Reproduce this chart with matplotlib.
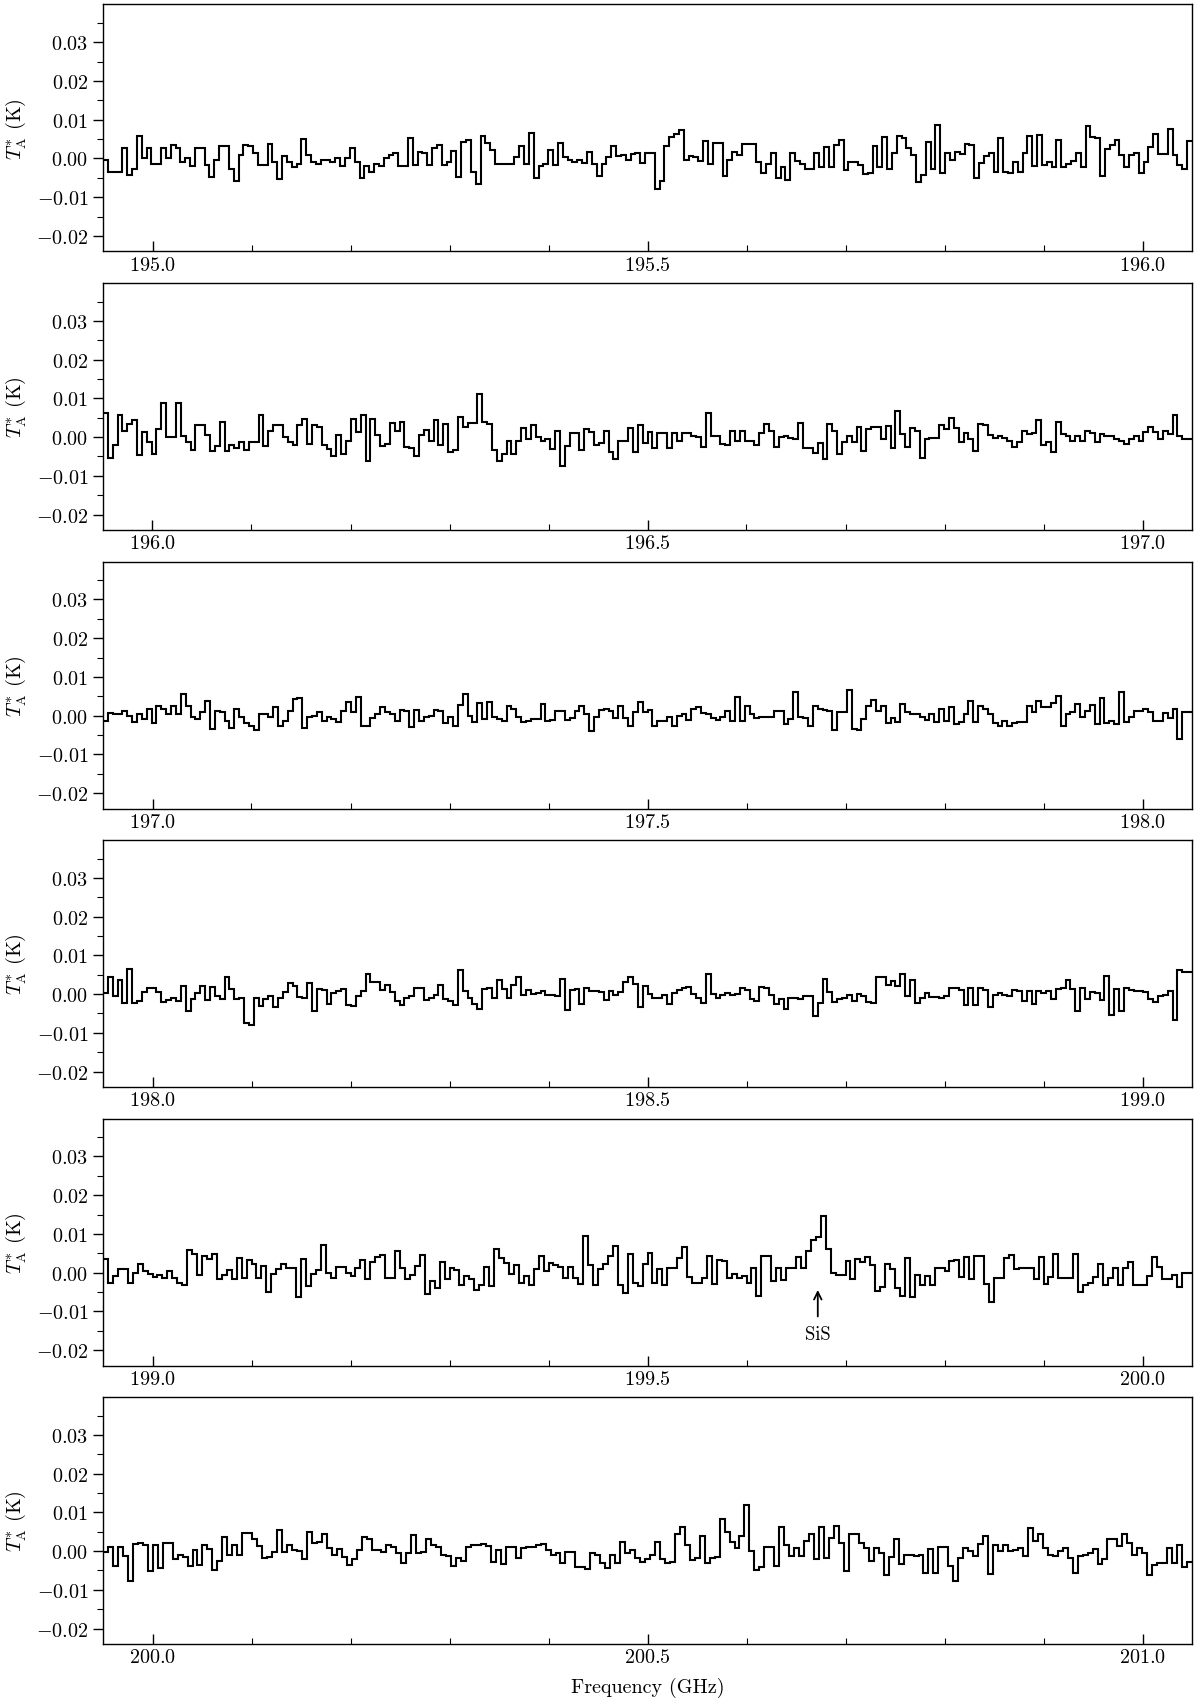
import numpy as np
import matplotlib
matplotlib.use("Agg")
import matplotlib.pyplot as plt
from matplotlib.ticker import MultipleLocator, FuncFormatter

plt.rcParams['font.family'] = 'serif'
plt.rcParams['font.serif'] = ['cmr10']
plt.rcParams['mathtext.fontset'] = 'cm'
plt.rcParams['axes.formatter.use_mathtext'] = True
plt.rcParams['axes.unicode_minus'] = True

# ---------------- data (antenna temperature in K) ----------------
panel_starts = [194.95, 195.95, 196.95, 197.95, 198.95, 199.95]   # GHz, left edge of each panel
panel_width = 1.1                                                  # GHz covered by each panel

spec_195 = [
    -0.0004, -0.0034, -0.0034, -0.0034, 0.0026, -0.0043, -0.0026, 0.0057, 0.0000, 0.0026,
    -0.0013, -0.0013, 0.0026, 0.0000, 0.0034, 0.0026, -0.0009, 0.0000, -0.0020, 0.0028,
    0.0028, -0.0017, -0.0049, -0.0004, 0.0032, 0.0032, -0.0026, -0.0058, 0.0009, 0.0036,
    0.0032, 0.0013, -0.0017, -0.0017, 0.0038, -0.0009, -0.0052, 0.0006, -0.0009, -0.0021,
    -0.0013, 0.0050, 0.0010, -0.0009, -0.0015, -0.0004, -0.0003, -0.0010, 0.0000, -0.0020,
    0.0000, 0.0027, -0.0009, -0.0051, -0.0020, -0.0034, -0.0013, -0.0020, 0.0000, 0.0009,
    0.0015, -0.0019, -0.0019, 0.0054, -0.0017, 0.0017, 0.0013, -0.0017, 0.0026, 0.0036,
    -0.0017, -0.0009, 0.0019, -0.0047, 0.0043, 0.0047, -0.0034, -0.0067, 0.0057, 0.0040,
    0.0021, -0.0013, -0.0013, -0.0013, -0.0013, 0.0003, 0.0032, -0.0015, 0.0067, -0.0050,
    -0.0020, -0.0013, 0.0021, -0.0017, 0.0041, 0.0003, -0.0003, -0.0009, -0.0003, -0.0011,
    0.0017, -0.0013, -0.0045, -0.0013, 0.0004, 0.0032, 0.0006, 0.0009, -0.0004, 0.0011,
    0.0013, -0.0011, 0.0013,
    0.0013, -0.0079, -0.0058, 0.0032, 0.0056, 0.0062, 0.0073, -0.0003, 0.0006, 0.0003,
    -0.0006, 0.0045, -0.0013, 0.0040, 0.0040, -0.0045, -0.0003, 0.0017, 0.0010, 0.0038,
    0.0038, 0.0038, -0.0009, -0.0037, -0.0013, 0.0013, -0.0050, -0.0021, -0.0056, 0.0013,
    -0.0007, -0.0013, -0.0026, -0.0026, 0.0013, -0.0021, 0.0030, -0.0021, 0.0036, 0.0049,
    -0.0030, -0.0009, -0.0009, -0.0017, -0.0040, -0.0038, 0.0032, -0.0021, 0.0056, -0.0028,
    0.0013, 0.0057, 0.0053, 0.0027, 0.0009, -0.0062, -0.0043, 0.0043, -0.0028, 0.0087,
    -0.0038, 0.0013, -0.0004, 0.0017, 0.0011, 0.0038, 0.0036, -0.0051, -0.0011, 0.0006,
    0.0013, -0.0034, 0.0053, -0.0034, -0.0037, -0.0009, -0.0034, 0.0013, 0.0057, -0.0020,
    0.0060, -0.0017, -0.0009, -0.0021, 0.0047, -0.0021, -0.0013, -0.0006, 0.0013, -0.0021,
    0.0084, 0.0056, 0.0053, -0.0044, 0.0024, 0.0034, 0.0047, 0.0009, -0.0021, 0.0009,
    0.0013, -0.0038, -0.0009, 0.0030, 0.0064, 0.0011, 0.0011, 0.0077, 0.0009, -0.0016,
    -0.0026, 0.0044,
]

spec_196 = [
    0.0062, -0.0053, -0.0020, 0.0056, 0.0015, 0.0034, 0.0043, -0.0047, 0.0013, -0.0013,
    -0.0044, 0.0020, 0.0088, 0.0000, 0.0000, 0.0087, 0.0004, -0.0013, -0.0034, 0.0030,
    0.0032, 0.0006, -0.0037, -0.0023, 0.0038, -0.0037, -0.0020, -0.0028, -0.0013, -0.0034,
    -0.0013, -0.0013, 0.0056, -0.0023, 0.0017, 0.0030, 0.0030, 0.0000, -0.0013, -0.0020,
    0.0030, 0.0047, -0.0017, 0.0032, 0.0026, -0.0020, -0.0032, -0.0050, 0.0006, -0.0043,
    -0.0010, 0.0047, 0.0013, 0.0056, -0.0062, 0.0047, 0.0006, -0.0024, -0.0017, 0.0036,
    0.0015, 0.0040, -0.0026, -0.0028, -0.0050, 0.0006, 0.0019, -0.0009, 0.0044, -0.0021,
    0.0034, -0.0038, -0.0034, 0.0051, 0.0026, 0.0036, 0.0036, 0.0111, 0.0040, 0.0034,
    -0.0034, -0.0062, -0.0043, -0.0010, -0.0043, -0.0009, 0.0024, -0.0006, 0.0030, 0.0000,
    -0.0010, -0.0004, -0.0032, 0.0015, -0.0074, -0.0023, 0.0010, 0.0010, -0.0034, 0.0021,
    0.0013, -0.0020, -0.0015, 0.0017, -0.0038, -0.0057, -0.0010, -0.0009, 0.0024, -0.0038,
    0.0032, -0.0015,
    0.0013, -0.0028, 0.0010, 0.0010, -0.0028, 0.0010, -0.0011, 0.0010, 0.0010, 0.0004,
    0.0000, -0.0026, 0.0062, 0.0004, 0.0004, -0.0017, -0.0021, 0.0017, -0.0009, 0.0017,
    -0.0009, -0.0009, -0.0021, 0.0010, 0.0034, 0.0015, -0.0026, 0.0000, 0.0004, -0.0003,
    -0.0006, 0.0036, -0.0028, -0.0028, -0.0040, -0.0015, -0.0056, 0.0034, 0.0015, -0.0043,
    -0.0013, 0.0004, -0.0013, 0.0026, -0.0037, 0.0021, 0.0026, 0.0026, -0.0004, 0.0028,
    -0.0028, 0.0068, 0.0009, -0.0026, 0.0023, 0.0017, -0.0054, -0.0004, -0.0003, -0.0003,
    0.0032, 0.0021, 0.0049, 0.0023, -0.0013, 0.0010, -0.0004, -0.0037, 0.0034, 0.0032,
    0.0006, -0.0003, 0.0004, -0.0003, -0.0011, -0.0026, -0.0013, 0.0017, 0.0009, 0.0010,
    0.0044, -0.0020, -0.0013, -0.0038, 0.0040, 0.0009, 0.0003, -0.0009, 0.0003, -0.0011,
    0.0015, 0.0011, -0.0013, 0.0009, 0.0003, 0.0003, -0.0004, -0.0009, -0.0017, -0.0004,
    0.0004, -0.0009, 0.0013, 0.0027, 0.0013, -0.0004, 0.0017, 0.0009, 0.0057, 0.0004,
    -0.0004, -0.0004,
]

spec_197 = [
    -0.0015, 0.0006, 0.0004, 0.0003, 0.0011, 0.0000, -0.0017, 0.0004, -0.0009, 0.0017,
    -0.0020, 0.0026, 0.0017, 0.0003, 0.0026, 0.0003, 0.0056, 0.0024, -0.0003, -0.0009,
    0.0009, 0.0038, -0.0034, 0.0013, 0.0009, -0.0015, -0.0032, 0.0017, -0.0004, -0.0020,
    -0.0028, -0.0037, 0.0003, 0.0003, -0.0003, 0.0021, -0.0028, -0.0013, 0.0011, 0.0043,
    0.0045, -0.0032, -0.0003, 0.0000, 0.0009, -0.0015, -0.0004, -0.0009, -0.0017, 0.0013,
    0.0034, 0.0009, 0.0047, -0.0026, -0.0027, -0.0006, 0.0004, 0.0021, 0.0009, 0.0004,
    -0.0013, 0.0015, 0.0013, -0.0030, 0.0015, -0.0013, -0.0003, 0.0000, 0.0015, 0.0013,
    -0.0020, -0.0004, -0.0028, 0.0027, 0.0056, 0.0000, -0.0017, 0.0032, -0.0009, 0.0034,
    -0.0004, -0.0009, -0.0013, 0.0026, 0.0017, -0.0004, -0.0017, -0.0015, -0.0009, -0.0009,
    0.0030, -0.0013, -0.0011, 0.0013, 0.0013, -0.0011, -0.0006, 0.0013, 0.0026, 0.0003,
    -0.0041, -0.0004, 0.0015, 0.0017, 0.0013, -0.0006, 0.0026, -0.0006, -0.0026, 0.0009,
    0.0036, 0.0010,
    0.0015, -0.0026, -0.0015, -0.0015, -0.0003, -0.0026, 0.0000, 0.0003, -0.0011, 0.0017,
    0.0023, 0.0006, 0.0004, -0.0006, -0.0011, -0.0004, 0.0011, -0.0013, 0.0047, -0.0013,
    0.0026, 0.0003, -0.0006, -0.0003, -0.0003, -0.0003, 0.0011, 0.0011, -0.0023, -0.0009,
    0.0060, -0.0003, -0.0006, -0.0028, 0.0026, 0.0017, 0.0015, 0.0011, -0.0037, 0.0009,
    0.0010, 0.0066, -0.0034, -0.0037, -0.0009, 0.0026, 0.0040, 0.0011, 0.0026, -0.0020,
    -0.0006, -0.0017, 0.0030, 0.0009, 0.0004, 0.0003, -0.0003, -0.0011, 0.0004, -0.0017,
    0.0017, -0.0013, 0.0023, -0.0021, -0.0017, 0.0004, 0.0038, -0.0017, 0.0026, 0.0017,
    0.0003, -0.0020, -0.0028, -0.0013, -0.0028, -0.0020, -0.0017, -0.0017, 0.0026, 0.0009,
    0.0038, 0.0023, 0.0021, 0.0032, 0.0051, -0.0028, 0.0003, 0.0009, 0.0030, -0.0003,
    0.0013, 0.0027, -0.0021, 0.0045, -0.0020, -0.0013, -0.0021, 0.0062, -0.0017, -0.0003,
    0.0011, 0.0011, 0.0017, 0.0009, -0.0013, -0.0015, 0.0006, -0.0006, 0.0017, -0.0060,
    0.0009, 0.0009,
]

spec_198 = [
    0.0004, 0.0045, -0.0006, 0.0036, -0.0024, 0.0064, -0.0024, -0.0017, 0.0006, 0.0015,
    0.0015, 0.0006, -0.0021, -0.0015, -0.0010, -0.0017, 0.0021, -0.0043, -0.0013, 0.0004,
    0.0020, -0.0015, 0.0019, -0.0006, -0.0013, 0.0044, 0.0013, -0.0013, -0.0010, -0.0075,
    -0.0079, -0.0009, -0.0032, -0.0013, -0.0004, -0.0034, -0.0011, 0.0006, 0.0028, 0.0021,
    -0.0007, -0.0010, 0.0028, -0.0043, 0.0013, 0.0011, -0.0026, 0.0004, 0.0009, 0.0013,
    -0.0028, -0.0032, -0.0004, 0.0009, 0.0051, 0.0030, 0.0030, 0.0011, 0.0023, 0.0006,
    -0.0017, -0.0028, -0.0009, -0.0006, 0.0017, 0.0015, -0.0015, -0.0011, -0.0003, 0.0024,
    -0.0013, -0.0017, -0.0028, 0.0062, 0.0009, -0.0011, -0.0026, -0.0038, 0.0013, 0.0015,
    -0.0011, 0.0036, 0.0013, -0.0009, 0.0024, 0.0045, -0.0003, 0.0011, 0.0000, 0.0003,
    0.0009, -0.0003, -0.0003, -0.0006, 0.0040, -0.0040, 0.0011, 0.0013, -0.0026, 0.0017,
    0.0009, 0.0009, 0.0006, -0.0015, 0.0009, -0.0003, 0.0006, 0.0032, 0.0043, 0.0026,
    -0.0034, 0.0021,
    0.0000, -0.0009, -0.0009, -0.0003, -0.0026, 0.0003, 0.0010, 0.0015, 0.0019, 0.0000,
    -0.0009, -0.0023, 0.0051, 0.0000, -0.0010, -0.0003, 0.0003, -0.0003, 0.0000, 0.0017,
    0.0010, -0.0013, -0.0017, 0.0019, 0.0017, -0.0003, -0.0026, -0.0013, -0.0038, -0.0010,
    -0.0009, -0.0013, -0.0006, -0.0006, -0.0056, -0.0024, 0.0038, 0.0006, -0.0021, -0.0013,
    -0.0009, -0.0003, -0.0017, 0.0000, -0.0004, -0.0021, -0.0023, 0.0044, 0.0043, 0.0023,
    0.0034, 0.0021, 0.0051, -0.0006, 0.0036, -0.0024, -0.0010, 0.0004, -0.0007, -0.0007,
    -0.0011, -0.0004, 0.0017, 0.0017, 0.0010, -0.0028, 0.0015, -0.0028, 0.0015, 0.0011,
    -0.0034, -0.0003, 0.0003, -0.0003, -0.0006, 0.0011, 0.0009, -0.0017, 0.0009, -0.0026,
    0.0009, 0.0003, 0.0009, -0.0013, 0.0013, 0.0017, 0.0036, 0.0013, -0.0043, 0.0017,
    -0.0013, 0.0006, 0.0003, -0.0015, 0.0047, -0.0054, 0.0013, -0.0043, 0.0017, 0.0010,
    0.0009, 0.0009, 0.0006, -0.0013, -0.0021, -0.0006, -0.0003, 0.0009, -0.0068, 0.0062,
    0.0058, 0.0058,
]

spec_199 = [
    0.0036, -0.0026, -0.0009, 0.0010, 0.0009, -0.0028, 0.0000, 0.0023, 0.0003, -0.0004,
    -0.0011, -0.0006, -0.0015, 0.0004, -0.0013, -0.0026, -0.0032, 0.0058, 0.0049, -0.0006,
    0.0043, 0.0034, 0.0049, -0.0017, -0.0006, 0.0006, -0.0017, 0.0038, -0.0013, 0.0032,
    0.0021, -0.0013, 0.0017, -0.0051, -0.0003, 0.0009, 0.0021, 0.0011, 0.0013, -0.0062,
    0.0034, -0.0034, -0.0004, 0.0006, 0.0070, 0.0000, -0.0015, 0.0015, 0.0015, 0.0000,
    -0.0009, 0.0013, 0.0032, -0.0017, 0.0028, 0.0040, 0.0045, -0.0013, -0.0015, 0.0057,
    0.0011, -0.0017, -0.0006, 0.0017, 0.0045, -0.0056, -0.0021, -0.0041, 0.0027, -0.0017,
    0.0011, 0.0006, -0.0032, -0.0010, -0.0017, -0.0045, -0.0032, 0.0015, -0.0034, 0.0062,
    0.0038, 0.0026, -0.0003, 0.0019, -0.0028, -0.0009, -0.0032, 0.0009, 0.0044, 0.0003,
    0.0026, 0.0020, 0.0015, -0.0015, 0.0015, -0.0013, -0.0030, 0.0094, 0.0019, -0.0032,
    0.0009, 0.0021, 0.0044, 0.0068, -0.0032, -0.0053, 0.0049, -0.0026, -0.0034, 0.0021,
    0.0051,
    -0.0026, 0.0009, -0.0032, 0.0011, 0.0013, 0.0038, 0.0066, -0.0011, -0.0028, -0.0028,
    -0.0013, 0.0043, -0.0030, 0.0032, 0.0030, -0.0013, -0.0003, -0.0015, -0.0009, -0.0026,
    0.0013, -0.0060, 0.0043, 0.0043, -0.0023, 0.0013, -0.0020, 0.0011, 0.0013, 0.0040,
    0.0011, 0.0056, 0.0083, 0.0091, 0.0145, 0.0062, 0.0000, -0.0006, -0.0006, 0.0030,
    -0.0017, 0.0034, 0.0028, 0.0040, 0.0020, -0.0047, -0.0038, 0.0021, 0.0010, -0.0040,
    -0.0060, 0.0038, -0.0064, -0.0007, -0.0032, -0.0009, -0.0032, 0.0011, 0.0013, 0.0004,
    0.0030, 0.0032, -0.0011, 0.0040, -0.0017, 0.0044, 0.0043, -0.0030, -0.0075, -0.0013,
    -0.0013, 0.0038, 0.0045, 0.0009, 0.0013, 0.0013, 0.0013, -0.0017, 0.0040, -0.0030,
    -0.0011, 0.0049, -0.0013, -0.0015, -0.0015, 0.0049, -0.0051, -0.0032, -0.0026, -0.0011,
    0.0021, -0.0032, -0.0013, 0.0011, -0.0032, 0.0013, 0.0027, -0.0032, -0.0032, -0.0032,
    -0.0009, 0.0040, 0.0015, -0.0017, -0.0017, -0.0006, -0.0037, 0.0000, 0.0000,
]

spec_200 = [
    -0.0003, 0.0010, -0.0038, 0.0010, -0.0013, -0.0077, 0.0019, 0.0020, 0.0015, -0.0051,
    0.0015, -0.0043, 0.0020, 0.0020, -0.0021, -0.0009, -0.0015, -0.0038, 0.0003, -0.0037,
    0.0015, 0.0006, -0.0050, -0.0026, 0.0036, -0.0010, 0.0017, -0.0009, 0.0047, 0.0047,
    0.0030, 0.0013, -0.0017, -0.0015, -0.0003, 0.0054, -0.0003, 0.0015, 0.0003, 0.0000,
    -0.0021, 0.0049, 0.0021, 0.0024, 0.0044, 0.0009, -0.0009, 0.0006, -0.0015, -0.0037,
    -0.0021, 0.0003, 0.0036, 0.0032, 0.0004, 0.0003, -0.0003, 0.0017, 0.0011, -0.0004,
    -0.0032, -0.0006, 0.0041, -0.0006, -0.0003, 0.0032, 0.0017, 0.0010, -0.0010, -0.0013,
    -0.0038, -0.0017, -0.0026, 0.0010, 0.0017, 0.0015, 0.0019, 0.0013, -0.0028, 0.0004,
    -0.0034, 0.0010, 0.0011, -0.0017, 0.0009, 0.0010, 0.0011, 0.0015, 0.0019, 0.0003,
    -0.0009, -0.0004, -0.0032, -0.0003, -0.0003, -0.0040, -0.0041, -0.0047, -0.0004, -0.0010,
    -0.0032, -0.0043, -0.0009, -0.0032, 0.0024, -0.0004, 0.0003, -0.0017, -0.0028, -0.0021,
    -0.0009, 0.0024, -0.0020, -0.0030, -0.0028, 0.0043, 0.0062, 0.0017, -0.0023, -0.0017,
    0.0038, -0.0032, -0.0017, -0.0015, 0.0084, 0.0049, 0.0023, 0.0009, 0.0040, 0.0120,
    0.0000, -0.0049, -0.0040, 0.0010, 0.0010, -0.0038, 0.0062, 0.0017, -0.0013, 0.0009,
    -0.0013, 0.0026, 0.0043, -0.0020, 0.0062, -0.0017, 0.0034, 0.0064, 0.0021, -0.0051,
    0.0043, 0.0043, 0.0021, 0.0009, -0.0026, 0.0009, -0.0006, -0.0062, -0.0015, 0.0032,
    -0.0034, -0.0009, -0.0009, -0.0013, -0.0011, -0.0056, 0.0006, -0.0056, 0.0011, 0.0011,
    -0.0038, -0.0077, -0.0017, 0.0009, 0.0000, -0.0013, 0.0019, 0.0038, -0.0058, 0.0017,
    0.0000, 0.0015, 0.0000, 0.0003, 0.0009, -0.0013, 0.0060, 0.0026, 0.0045, 0.0009,
    -0.0009, -0.0013, 0.0000, 0.0009, -0.0017, -0.0056, -0.0013, -0.0010, -0.0004, 0.0006,
    -0.0034, -0.0021, 0.0030, 0.0032, 0.0013, 0.0045, 0.0021, -0.0011, 0.0009, -0.0004,
    -0.0062, -0.0037, -0.0032, -0.0032, 0.0009, -0.0032, 0.0017, -0.0040, -0.0028,
]

spectra = [spec_195, spec_196, spec_197, spec_198, spec_199, spec_200]

line_label = "SiS"
line_freq = 199.672        # GHz
line_arrow_tip = -0.0045   # K
line_text_y = -0.0158      # K

y_ticks = [-0.02, -0.01, 0.00, 0.01, 0.02, 0.03]

# ---------------- figure ----------------
W, H = 1200, 1706
fig = plt.figure(figsize=(W / 100, H / 100), dpi=100)

tops = [5.4, 284.0, 562.5, 841.0, 1119.5, 1398.0]
bottoms = [252.4, 531.0, 809.5, 1088.0, 1366.5, 1645.0]
left_px, right_px = 103, 1192

fs = 14.5
for k, (vals, f0) in enumerate(zip(spectra, panel_starts)):
    ax = fig.add_axes([left_px / W, 1 - bottoms[k] / H,
                       (right_px - left_px) / W, (bottoms[k] - tops[k]) / H])
    n = len(vals)
    edges = f0 + np.arange(n + 1) * (panel_width / n)
    ax.stairs(vals, edges, baseline=None, color='black', lw=1.5)
    ax.set_xlim(f0, f0 + panel_width)
    ax.set_ylim(-0.024, 0.0398)
    ax.set_yticks(y_ticks)
    ax.yaxis.set_minor_locator(MultipleLocator(0.005))
    ax.xaxis.set_major_locator(MultipleLocator(0.5))
    ax.xaxis.set_minor_locator(MultipleLocator(0.1))
    ax.yaxis.set_major_formatter(FuncFormatter(lambda v, p: r'$%.2f$' % v if abs(v) > 1e-9 else r'$0.00$'))
    ax.xaxis.set_major_formatter(FuncFormatter(lambda v, p: r'$%.1f$' % v))
    ax.tick_params(axis='both', which='major', labelsize=fs, length=7, width=1.0)
    ax.tick_params(axis='both', which='minor', length=4, width=0.8)
    ax.tick_params(axis='x', which='both', direction='in', pad=3)
    for s in ax.spines.values():
        s.set_linewidth(1.0)
    ax.set_ylabel(r'$T_{\rm A}^{*}$ (K)', fontsize=fs)
    ax.yaxis.set_label_coords(-0.069, 0.5)
    if k == 4:
        ax.annotate(line_label, xy=(line_freq, line_arrow_tip), xytext=(line_freq, line_text_y),
                    ha='center', va='center', fontsize=fs - 1,
                    arrowprops=dict(arrowstyle='->', color='black', lw=1.3, shrinkA=4, shrinkB=0))
    if k == 5:
        ax.set_xlabel('Frequency (GHz)', fontsize=fs, labelpad=8)

fig.savefig('out.png', dpi=100)
